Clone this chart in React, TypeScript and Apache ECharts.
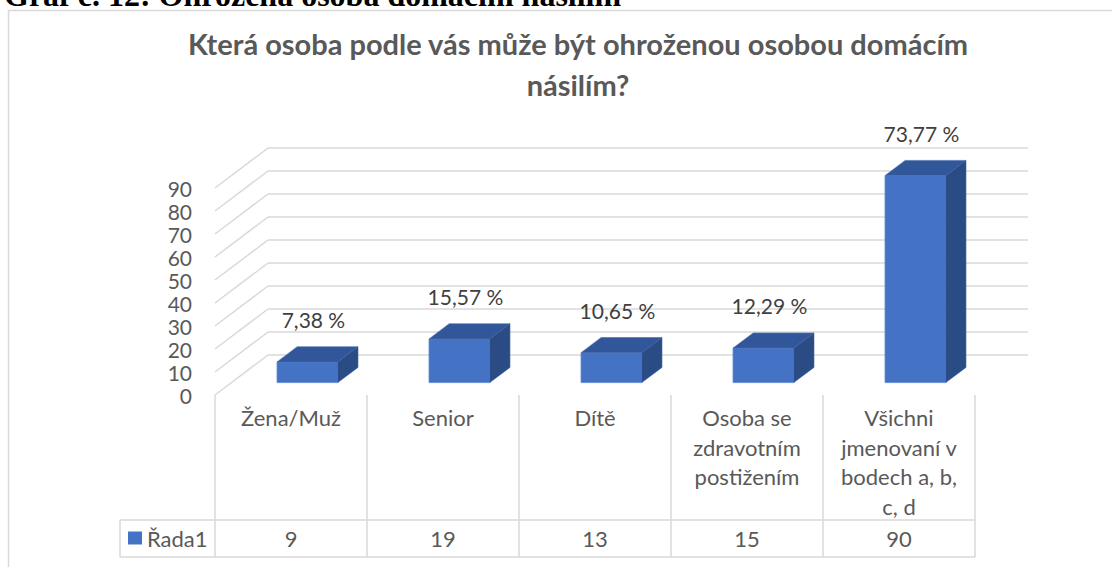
import React, { useEffect, useRef } from "react";
import * as echarts from "echarts";

// ---- data ----
const categories = [
  "Žena/Muž",
  "Senior",
  "Dítě",
  "Osoba se\nzdravotním\npostižením",
  "Všichni\njmenovaní v\nbodech a, b,\nc, d",
];
const values = [9, 19, 13, 15, 90];
const percentLabels = ["7,38 %", "15,57 %", "10,65 %", "12,29 %", "73,77 %"];
const yTicks = [0, 10, 20, 30, 40, 50, 60, 70, 80, 90];
const seriesName = "Řada1";
const chartTitle = "Která osoba podle vás může být ohroženou osobou domácím\nnásilím?";
const docCaption = "Graf č. 12: Ohrožená osoba domácím násilím";

// ---- layout / style ----
const W = 1112;
const H = 567;
const FRONT_LEFT = 215;
const PLOT_W = 760;
const FRONT_TOP = 188;
const PLOT_H = 207;
const DX = 53;
const DY = -40;
const D1 = 0.31;
const D2 = 0.69;
const BAR_W = 0.4;
const GRID_COLOR = "#d9d9d9";
const TEXT = "#595959";
const FONT = "Lato";
const C_FRONT = "#4472C4";
const C_TOP = "#32569a";
const C_SIDE = "#2b4b84";

export default function App() {
  const ref = useRef<HTMLDivElement>(null);
  useEffect(() => {
    if (!ref.current) return;
    const chart = echarts.init(ref.current, undefined, { renderer: "svg" });
    const option: any = {
      animation: false,
      backgroundColor: "#ffffff",
      graphic: [
        {
          type: "rect",
          shape: { x: 8.5, y: 10.5, width: 1200, height: 700 },
          style: { fill: "none", stroke: GRID_COLOR, lineWidth: 1.5 },
          silent: true,
        },
        {
          type: "text",
          x: 4,
          y: -5,
          style: {
            text: docCaption,
            fill: "#000",
            fontFamily: "Liberation Serif",
            fontWeight: "bold",
            fontSize: 32,
            verticalAlign: "middle",
          },
        },
        {
          type: "text",
          x: 578,
          y: 64,
          style: {
            text: chartTitle,
            fill: TEXT,
            fontFamily: FONT,
            fontWeight: "bold",
            fontSize: 29,
            lineHeight: 41,
            align: "center",
            verticalAlign: "middle",
          },
        },
        {
          type: "line",
          shape: { x1: 120, y1: 520, x2: FRONT_LEFT + PLOT_W, y2: 520 },
          style: { stroke: GRID_COLOR, lineWidth: 1.5 },
        },
        {
          type: "line",
          shape: { x1: 120, y1: 557, x2: FRONT_LEFT + PLOT_W, y2: 557 },
          style: { stroke: GRID_COLOR, lineWidth: 1.5 },
        },
        {
          type: "line",
          shape: { x1: 120, y1: 520, x2: 120, y2: 557 },
          style: { stroke: GRID_COLOR, lineWidth: 1.5 },
        },
      ],
      legend: {
        data: [seriesName],
        left: 128,
        top: 527,
        padding: 0,
        itemWidth: 14,
        itemHeight: 13,
        icon: "rect",
        itemGap: 5,
        textStyle: { color: TEXT, fontSize: 22, fontFamily: FONT },
      },
      grid: [
        {
          left: FRONT_LEFT,
          top: FRONT_TOP,
          width: PLOT_W,
          height: PLOT_H,
          outerBoundsMode: "none",
        },
        {
          left: FRONT_LEFT + DX,
          top: FRONT_TOP + DY,
          width: PLOT_W,
          height: PLOT_H,
          outerBoundsMode: "none",
        },
      ],
      xAxis: [
        {
          type: "category",
          gridIndex: 0,
          data: categories,
          position: "bottom",
          axisLine: { show: false },
          axisTick: {
            show: true,
            length: 162,
            inside: false,
            lineStyle: { color: GRID_COLOR, width: 1.5 },
          },
          axisLabel: {
            interval: 0,
            margin: 8,
            color: TEXT,
            fontSize: 22,
            fontFamily: FONT,
            lineHeight: 29.5,
            verticalAlign: "top",
            align: "center",
          },
        },
        {
          type: "category",
          gridIndex: 0,
          data: values.map((v) => String(v)),
          position: "bottom",
          axisLine: { show: false },
          axisTick: { show: false },
          axisLabel: {
            interval: 0,
            margin: 143,
            color: TEXT,
            fontSize: 22,
            fontFamily: FONT,
            verticalAlign: "middle",
          },
        },
        {
          type: "category",
          gridIndex: 1,
          data: categories,
          show: false,
        },
      ],
      yAxis: [
        {
          type: "value",
          gridIndex: 0,
          min: 0,
          max: 90,
          interval: 10,
          axisLine: { show: false },
          axisTick: { show: false },
          splitLine: { show: false },
          axisLabel: {
            color: TEXT,
            fontSize: 21,
            lineHeight: 19,
            fontFamily: FONT,
            margin: 23,
          },
        },
        {
          type: "value",
          gridIndex: 1,
          min: 0,
          max: 90,
          interval: 10,
          axisLine: { show: false },
          axisTick: { show: false },
          axisLabel: { show: false },
          splitLine: { show: true, lineStyle: { color: GRID_COLOR, width: 1.5 } },
        },
      ],
      series: [
        {
          type: "custom",
          name: "wall",
          xAxisIndex: 0,
          yAxisIndex: 0,
          silent: true,
          data: yTicks.map((v) => [0, v]),
          renderItem: (params: any, api: any) => {
            const p = api.coord([0, api.value(1)]);
            const band = api.size([1, 0])[0];
            const left = p[0] - band / 2;
            return {
              type: "line",
              shape: { x1: left, y1: p[1], x2: left + DX, y2: p[1] + DY },
              style: { stroke: GRID_COLOR, lineWidth: 1.5 },
            };
          },
        },
        {
          type: "custom",
          name: seriesName,
          xAxisIndex: 0,
          yAxisIndex: 0,
          itemStyle: { color: C_FRONT },
          data: values.map((v, i) => [i, v]),
          renderItem: (params: any, api: any) => {
            const i = api.value(0);
            const v = api.value(1);
            const base = api.coord([i, 0]);
            const top = api.coord([i, v]);
            const band = api.size([1, 0])[0];
            const w = band * BAR_W;
            const x0 = base[0] - w / 2 + D1 * DX;
            const x1 = x0 + w;
            const yb = base[1] + D1 * DY;
            const yt = top[1] + D1 * DY;
            const ddx = (D2 - D1) * DX;
            const ddy = (D2 - D1) * DY;
            return {
              type: "group",
              children: [
                {
                  type: "polygon",
                  shape: { points: [[x0, yb], [x1, yb], [x1, yt], [x0, yt]] },
                  style: { fill: C_FRONT, stroke: "#5b86d0", lineWidth: 0.8 },
                },
                {
                  type: "polygon",
                  shape: { points: [[x0, yt], [x1, yt], [x1 + ddx, yt + ddy], [x0 + ddx, yt + ddy]] },
                  style: { fill: C_TOP, stroke: "#4a6fb0", lineWidth: 0.6 },
                },
                {
                  type: "polygon",
                  shape: { points: [[x1, yb], [x1 + ddx, yb + ddy], [x1 + ddx, yt + ddy], [x1, yt]] },
                  style: { fill: C_SIDE, stroke: "#3d5f9c", lineWidth: 0.6 },
                },
                {
                  type: "text",
                  x: (x0 + x1) / 2 + 6,
                  y: top[1] - 55,
                  style: {
                    text: percentLabels[params.dataIndex],
                    fill: "#404040",
                    fontSize: 21,
                    fontFamily: FONT,
                    align: "center",
                    verticalAlign: "middle",
                  },
                },
              ],
            };
          },
        },
      ],
    };
    chart.setOption(option);
    return () => chart.dispose();
  }, []);
  return (
    <div
      ref={ref}
      style={{ position: "absolute", left: 0, top: 0, width: W, height: H }}
    />
  );
}
